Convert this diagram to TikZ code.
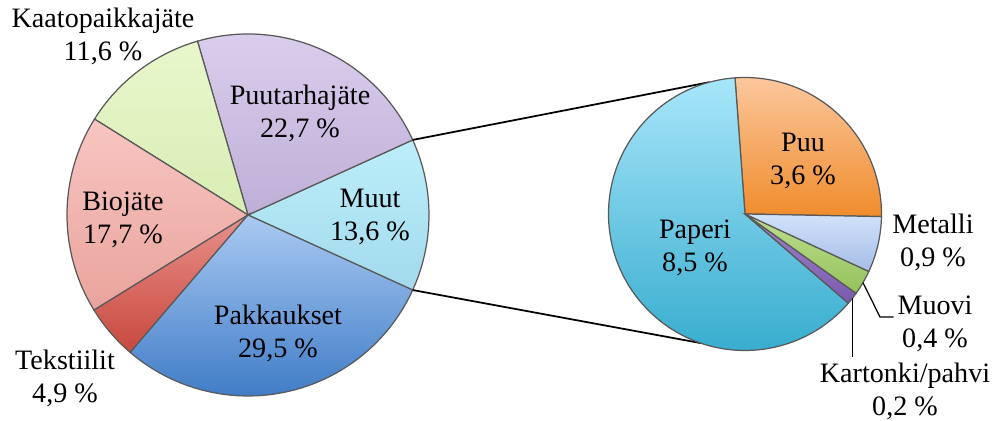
\documentclass[tikz,border=0pt]{standalone}
\usepackage{fontspec}
\setmainfont{Liberation Serif}
\usetikzlibrary{calc}

\definecolor{muuttop}{HTML}{BCEEFA}
\definecolor{muutbot}{HTML}{A2DAEC}
\definecolor{puutarhatop}{HTML}{DCD0EE}
\definecolor{puutarhabot}{HTML}{BFAFD8}
\definecolor{kaatotop}{HTML}{E9F7CC}
\definecolor{kaatobot}{HTML}{D8EDB4}
\definecolor{biotop}{HTML}{F8C6C2}
\definecolor{biobot}{HTML}{E9A39C}
\definecolor{teksttop}{HTML}{E8908A}
\definecolor{tekstbot}{HTML}{C8483E}
\definecolor{pakktop}{HTML}{AACAF2}
\definecolor{pakkbot}{HTML}{3A78C4}
\definecolor{puutop}{HTML}{FBC89E}
\definecolor{puubot}{HTML}{F08C2C}
\definecolor{paperitop}{HTML}{A8E6FA}
\definecolor{paperibot}{HTML}{36ACCE}
\definecolor{metallitop}{HTML}{D2E2FA}
\definecolor{metallibot}{HTML}{A4BCE6}
\definecolor{muovitop}{HTML}{BEDF8E}
\definecolor{muovibot}{HTML}{94C25C}
\definecolor{kartonkitop}{HTML}{A283CE}
\definecolor{kartonkibot}{HTML}{7A5AAE}

\tikzset{
 slice/.style={draw=black!65, line width=.7pt},
 lbl/.style={align=center, inner sep=0pt, font=\fontsize{16}{18.7}\selectfont},
 link/.style={black, line width=1pt},
 lead/.style={black, line width=.7pt},
}

\begin{document}
\begin{tikzpicture}[x=.02cm, y=.02cm]
\useasboundingbox (0,0) rectangle (995,421);
\coordinate (L) at (248,206);
\coordinate (R) at (745,207);
\foreach \a/\b/\c in {-24.5/24.5/muut, 24.5/106.2/puutarha, 106.2/148/kaato, 148/211.7/bio, 211.7/229.4/tekst, 229.4/335.5/pakk} {
 \draw[slice, top color=\c top, bottom color=\c bot] (L) -- ++(\a:181) arc[start angle=\a, end angle=\b, radius=181] -- cycle;
}
\coordinate (Ltop) at ($(L)+(24.5:181)$);
\coordinate (Lbot) at ($(L)+(-24.5:181)$);
\coordinate (Rtop) at ($(R)+(105:136.5)$);
\coordinate (Rbot) at ($(R)+(251:136.5)$);
\draw[link] (Ltop) -- (Rtop);
\draw[link] (Lbot) -- (Rbot);
\foreach \a/\b/\c in {-1.1/94.2/puu, 94.2/319.2/paperi, 319.2/324.5/kartonki, 324.5/335.1/muovi, 335.1/358.9/metalli} {
 \draw[slice, top color=\c top, bottom color=\c bot] (R) -- ++(\a:136.5) arc[start angle=\a, end angle=\b, radius=136.5] -- cycle;
}

\node[lbl] (kaato) at (103,385) {Kaatopaikkajäte\\11,6 \%};
\node[lbl] (puutarha) at (300,308) {Puutarhajäte\\22,7 \%};
\node[lbl] (muut) at (370,204) {Muut\\13,6 \%};
\node[lbl] (bio) at (123,201) {Biojäte\\17,7 \%};
\node[lbl] (pakk) at (278,88) {Pakkaukset\\29,5 \%};
\node[lbl] (tekst) at (65,43) {Tekstiilit\\4,9 \%};
\node[lbl] (paperi) at (695,173) {Paperi\\8,5 \%};
\node[lbl] (puu) at (803,260) {Puu\\3,6 \%};
\node[lbl] (metalli) at (933,179) {Metalli\\0,9 \%};
\node[lbl] (muovi) at (935,97) {Muovi\\0,4 \%};
\node[lbl] (kartonki) at (905,30) {Kartonki/pahvi\\0,2 \%};

\coordinate (mvedge) at ($(R)+(-30.2:136.5)$);
\coordinate (mvknee) at (880,104);
\draw[lead, shorten >=2pt] (mvedge) -- (mvknee) -- (mvknee -| muovi.west);
\coordinate (kpedge) at ($(R)+(-38.2:136.5)$);
\draw[lead, shorten >=3pt] (kpedge) -- (kpedge |- kartonki.north);
\end{tikzpicture}
\end{document}
